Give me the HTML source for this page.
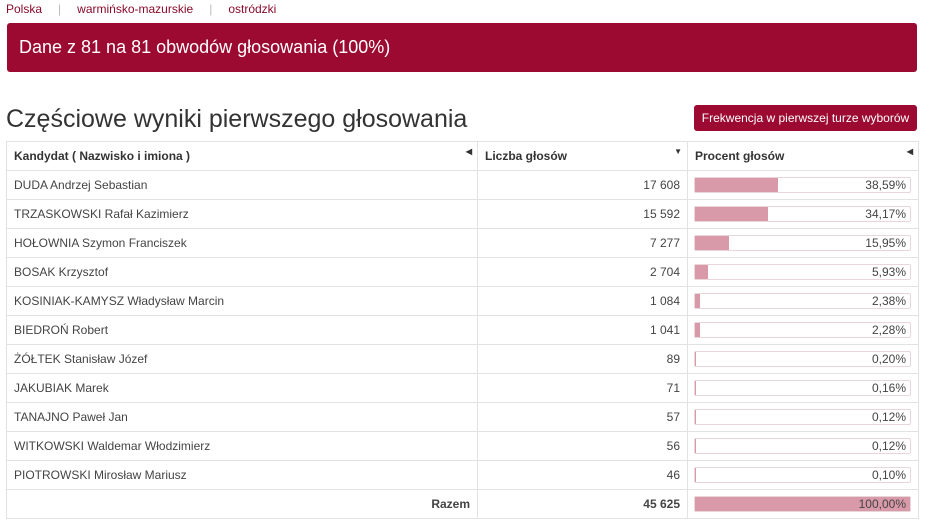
<!DOCTYPE html>
<html><head><meta charset="utf-8"><style>
*{margin:0;padding:0;box-sizing:border-box}
body{width:931px;height:521px;background:#fff;font-family:"Liberation Sans",sans-serif;color:#444;position:relative;overflow:hidden}
.crumb{position:absolute;top:2px;left:6px;font-size:12px;color:#8a0a2c}
.crumb span{color:#bbb;margin:0 16px}
.banner{position:absolute;left:7px;top:23px;width:910px;height:49px;background:#9d0a31;border-radius:3px;color:#fff;font-size:18px;line-height:49px;padding-left:12px}
h1{position:absolute;left:6px;top:105px;font-weight:normal;font-size:25px;color:#333}
.btn{position:absolute;left:694px;top:105px;width:223px;height:26px;background:#9d0a31;border-radius:3px;color:#fff;font-size:12px;line-height:26px;text-align:center}
table{position:absolute;left:6px;top:141px;border-collapse:collapse;font-size:12px}
td,th{border:1px solid #e2e2e2;height:29px;padding:0 7px;position:relative}
th{text-align:left;font-weight:bold;font-size:12px;color:#333}
td.n{text-align:right}
.bx{position:relative;height:16px;border:1px solid #e8d6db;border-radius:2px;background:#fff;margin-left:-1px}
.bx i{position:absolute;left:0;top:0;bottom:0;background:#d89aa8}
.bx b{position:absolute;right:4px;top:0;font-weight:normal;line-height:14px;font-size:12px}
.ar{position:absolute;right:5px;top:5px;font-size:8px}
</style></head><body>
<div class="crumb">Polska<span>|</span>warmińsko-mazurskie<span>|</span>ostródzki</div>
<div class="banner">Dane z 81 na 81 obwodów głosowania (100%)</div>
<h1>Częściowe wyniki pierwszego głosowania</h1>
<div class="btn">Frekwencja w pierwszej turze wyborów</div>
<table>
<colgroup><col style="width:471px"><col style="width:210px"><col style="width:231px"></colgroup>
<tr><th>Kandydat ( Nazwisko i imiona )<span class="ar">◀</span></th><th>Liczba głosów<span class="ar">▼</span></th><th>Procent głosów<span class="ar">◀</span></th></tr>
<tr><td>DUDA Andrzej Sebastian</td><td class="n">17 608</td><td><div class="bx"><i style="width:38.59%"></i><b>38,59%</b></div></td></tr>
<tr><td>TRZASKOWSKI Rafał Kazimierz</td><td class="n">15 592</td><td><div class="bx"><i style="width:34.17%"></i><b>34,17%</b></div></td></tr>
<tr><td>HOŁOWNIA Szymon Franciszek</td><td class="n">7 277</td><td><div class="bx"><i style="width:15.95%"></i><b>15,95%</b></div></td></tr>
<tr><td>BOSAK Krzysztof</td><td class="n">2 704</td><td><div class="bx"><i style="width:5.93%"></i><b>5,93%</b></div></td></tr>
<tr><td>KOSINIAK-KAMYSZ Władysław Marcin</td><td class="n">1 084</td><td><div class="bx"><i style="width:2.38%"></i><b>2,38%</b></div></td></tr>
<tr><td>BIEDROŃ Robert</td><td class="n">1 041</td><td><div class="bx"><i style="width:2.28%"></i><b>2,28%</b></div></td></tr>
<tr><td>ŻÓŁTEK Stanisław Józef</td><td class="n">89</td><td><div class="bx"><i style="width:1px"></i><b>0,20%</b></div></td></tr>
<tr><td>JAKUBIAK Marek</td><td class="n">71</td><td><div class="bx"><i style="width:1px"></i><b>0,16%</b></div></td></tr>
<tr><td>TANAJNO Paweł Jan</td><td class="n">57</td><td><div class="bx"><i style="width:1px"></i><b>0,12%</b></div></td></tr>
<tr><td>WITKOWSKI Waldemar Włodzimierz</td><td class="n">56</td><td><div class="bx"><i style="width:1px"></i><b>0,12%</b></div></td></tr>
<tr><td>PIOTROWSKI Mirosław Mariusz</td><td class="n">46</td><td><div class="bx"><i style="width:1px"></i><b>0,10%</b></div></td></tr>
<tr><td class="n"><b>Razem</b></td><td class="n"><b>45 625</b></td><td><div class="bx"><i style="width:100%"></i><b>100,00%</b></div></td></tr>
</table>
</body></html>
